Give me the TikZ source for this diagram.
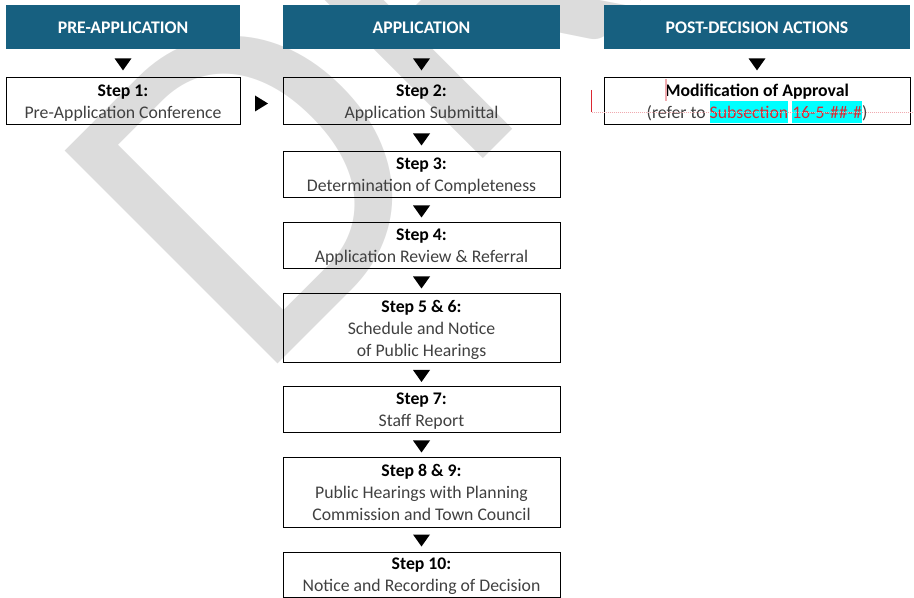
\documentclass[tikz,border=0pt]{standalone}
\usepackage{fontspec}
\setmainfont{Carlito}
\usetikzlibrary{calc}
\definecolor{hdrblue}{RGB}{23,96,128}
\definecolor{txtgray}{RGB}{64,64,64}
\definecolor{wmgray}{RGB}{220,220,220}
\definecolor{hlcyan}{RGB}{0,255,255}
\definecolor{revred}{RGB}{220,40,50}
\definecolor{revpink}{RGB}{240,170,175}
\newdimen\px \px=0.75pt
\newcommand\hlt[1]{{\setlength{\fboxsep}{0pt}\colorbox{hlcyan}{\rule[-4.1pt]{0pt}{17.2pt}\textcolor{revred}{#1}}}}
\newcommand\fst{\rule{0pt}{12.4pt}}
\newcommand\lst{\rule[-4.1pt]{0pt}{4.1pt}}
\newcommand\hst{\rule{0pt}{10.5pt}}
\newcommand\downtri[2]{\fill ($(#1.south)!0.5!(#2.north)$) ++(-8.5,-5) -- ++(17,0) -- ++(-8.5,12) -- cycle;}
\tikzset{
  hdr/.style={fill=hdrblue, text=white, inner sep=0pt, font=\fontsize{13.3}{16}\selectfont\bfseries},
  stepbox/.style={draw=black, line width=1\px, inner sep=0pt, align=center, text=txtgray,
     font=\fontsize{13.3}{16.5}\selectfont},
}
\begin{document}
\begin{tikzpicture}[x=1\px, y=-1\px]
\useasboundingbox (0,0) rectangle (914,598);
\clip (0,0) rectangle (914,598);
% watermark
\node[wmgray, inner sep=0pt, anchor=base west, rotate=45,
      font=\fontsize{352}{352}\selectfont] (wm) at (255,387) {DRAFT};
% headers
\node[hdr, minimum width=234\px, minimum height=44\px] (h1) at (123,27) {\hst PRE-APPLICATION};
\node[hdr, minimum width=277\px, minimum height=44\px] (h2) at (421.5,27) {\hst APPLICATION};
\node[hdr, minimum width=306\px, minimum height=44\px] (h3) at (757,27) {\hst POST-DECISION ACTIONS};
% steps
\node[stepbox, minimum width=234\px, minimum height=47\px] (s1) at (123,101.5)
  {\fst\textcolor{black}{\bfseries Step 1:}\\Pre-Application Conference\lst};
\node[stepbox, minimum width=277\px, minimum height=47\px] (s2) at (421.5,101.5)
  {\fst\textcolor{black}{\bfseries Step 2:}\\Application Submittal\lst};
\node[stepbox, minimum width=277\px, minimum height=46\px] (s3) at (421.5,175)
  {\fst\textcolor{black}{\bfseries Step 3:}\\Determination of Completeness\lst};
\node[stepbox, minimum width=277\px, minimum height=46\px] (s4) at (421.5,246)
  {\fst\textcolor{black}{\bfseries Step 4:}\\Application Review \& Referral\lst};
\node[stepbox, minimum width=277\px, minimum height=69\px] (s56) at (421.5,328.5)
  {\fst\textcolor{black}{\bfseries Step 5 \& 6:}\\Schedule and Notice\\of Public Hearings\lst};
\node[stepbox, minimum width=277\px, minimum height=46\px] (s7) at (421.5,410)
  {\fst\textcolor{black}{\bfseries Step 7:}\\Staff Report\lst};
\node[stepbox, minimum width=277\px, minimum height=69\px] (s89) at (421.5,492.5)
  {\fst\textcolor{black}{\bfseries Step 8 \& 9:}\\Public Hearings with Planning\\Commission and Town Council\lst};
\node[stepbox, minimum width=277\px, minimum height=45\px] (s10) at (421.5,574.5)
  {\fst\textcolor{black}{\bfseries Step 10:}\\Notice and Recording of Decision\lst};
\node[stepbox, minimum width=306\px, minimum height=47\px] (m) at (757,101.5)
  {\fst\textcolor{black}{\bfseries Modification of Approval}\\(refer to \hlt{Subsection} \hlt{16-5-\#\#-\#})\lst};
% arrows
\downtri{h1}{s1}
\downtri{h2}{s2}
\downtri{h3}{m}
\downtri{s2}{s3}
\downtri{s3}{s4}
\downtri{s4}{s56}
\downtri{s56}{s7}
\downtri{s7}{s89}
\downtri{s89}{s10}
\fill ($(s1.east)!0.5!(s2.west)$) ++(-6.5,-6) -- ++(13,8) -- ++(-13,8) -- cycle;
% revision marks
\coordinate (rb1) at (591.5,90);
\coordinate (rb2) at (591.5,112.5);
\coordinate (rb3) at (914,112.5);
\draw[revred, line width=1\px] (rb1) -- (rb2);
\draw[revpink, line width=0.8\px, dash pattern=on 1\px off 1\px] (rb2) -- (rb3);
\coordinate (cu1) at (666,79);
\coordinate (cu2) at (666,101);
\draw[revpink, line width=1.2\px] (cu1) -- (cu2);
\end{tikzpicture}
\end{document}
